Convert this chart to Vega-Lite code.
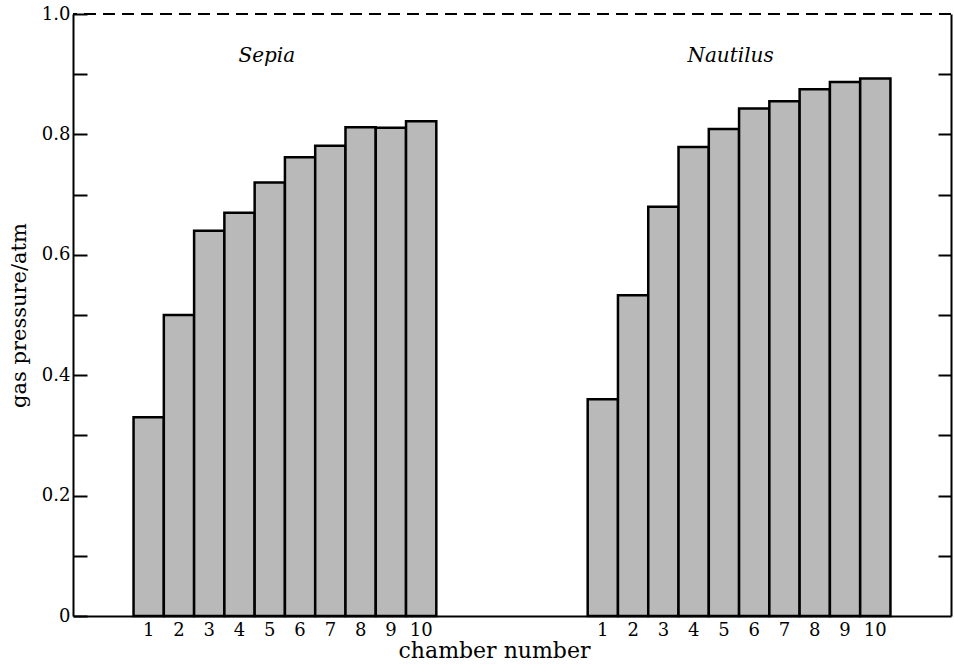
{
  "$schema": "https://vega.github.io/schema/vega-lite/v6.json",
  "width": 878,
  "height": 602,
  "autosize": "none",
  "padding": {"left": 73, "top": 14, "right": 3, "bottom": 55},
  "background": "white",
  "config": {
    "view": {"stroke": null},
    "font": "DejaVu Serif",
    "axis": {
      "grid": false,
      "domainColor": "black",
      "domainWidth": 2,
      "tickColor": "black",
      "tickWidth": 2,
      "labelColor": "black",
      "titleColor": "black",
      "labelFont": "DejaVu Serif",
      "titleFont": "DejaVu Serif",
      "labelFontSize": 18,
      "titleFontSize": 21,
      "titleFontWeight": "normal"
    }
  },
  "layer": [
    {
      "data": {
        "values": [
          {"species": "Sepia", "chamber": "1", "id": "S1", "pressure": 0.33},
          {"species": "Sepia", "chamber": "2", "id": "S2", "pressure": 0.50},
          {"species": "Sepia", "chamber": "3", "id": "S3", "pressure": 0.64},
          {"species": "Sepia", "chamber": "4", "id": "S4", "pressure": 0.67},
          {"species": "Sepia", "chamber": "5", "id": "S5", "pressure": 0.72},
          {"species": "Sepia", "chamber": "6", "id": "S6", "pressure": 0.762},
          {"species": "Sepia", "chamber": "7", "id": "S7", "pressure": 0.781},
          {"species": "Sepia", "chamber": "8", "id": "S8", "pressure": 0.812},
          {"species": "Sepia", "chamber": "9", "id": "S9", "pressure": 0.811},
          {"species": "Sepia", "chamber": "10", "id": "S10", "pressure": 0.822},
          {"species": "Nautilus", "chamber": "1", "id": "N1", "pressure": 0.36},
          {"species": "Nautilus", "chamber": "2", "id": "N2", "pressure": 0.533},
          {"species": "Nautilus", "chamber": "3", "id": "N3", "pressure": 0.68},
          {"species": "Nautilus", "chamber": "4", "id": "N4", "pressure": 0.779},
          {"species": "Nautilus", "chamber": "5", "id": "N5", "pressure": 0.809},
          {"species": "Nautilus", "chamber": "6", "id": "N6", "pressure": 0.843},
          {"species": "Nautilus", "chamber": "7", "id": "N7", "pressure": 0.855},
          {"species": "Nautilus", "chamber": "8", "id": "N8", "pressure": 0.875},
          {"species": "Nautilus", "chamber": "9", "id": "N9", "pressure": 0.887},
          {"species": "Nautilus", "chamber": "10", "id": "N10", "pressure": 0.893}
        ]
      },
      "mark": {"type": "bar", "fill": "#b9b9b9", "stroke": "black", "strokeWidth": 2.5},
      "encoding": {
        "x": {
          "field": "id",
          "type": "nominal",
          "sort": null,
          "scale": {
            "domain": ["a1", "a2", "S1", "S2", "S3", "S4", "S5", "S6", "S7", "S8", "S9", "S10", "g1", "g2", "g3", "g4", "g5", "N1", "N2", "N3", "N4", "N5", "N6", "N7", "N8", "N9", "N10", "r1", "r2"],
            "paddingInner": 0,
            "paddingOuter": 0
          },
          "axis": {
            "title": "chamber number",
            "titleFont": "DejaVu Serif",
            "titleFontSize": 22,
            "labelExpr": "(substring(datum.value,0,1) == 'S' || substring(datum.value,0,1) == 'N') ? substring(datum.value,1) : ''",
            "ticks": false,
            "labelAngle": 0,
            "labelPadding": 5,
            "titlePadding": 1,
            "titleX": 421
          }
        },
        "y": {
          "field": "pressure",
          "type": "quantitative",
          "scale": {"domain": [0, 1], "nice": false},
          "axis": {
            "title": "gas pressure/atm",
            "titleFont": "DejaVu Serif",
            "values": [0, 0.1, 0.2, 0.3, 0.4, 0.5, 0.6, 0.7, 0.8, 0.9, 1.0],
            "labelExpr": "datum.value == 0 ? '0' : (round(datum.value*10) % 2 == 0 ? format(datum.value, '.1f') : '')",
            "tickSize": -14,
            "labelPadding": 17,
            "titlePadding": 12
          }
        }
      }
    },
    {
      "data": {"values": [{}]},
      "mark": {"type": "rule", "strokeDash": [12, 7], "strokeWidth": 2, "color": "black"},
      "encoding": {
        "y": {
          "datum": 1,
          "type": "quantitative",
          "axis": {
            "orient": "right",
            "title": null,
            "labels": false,
            "values": [0.1, 0.2, 0.3, 0.4, 0.5, 0.6, 0.7, 0.8, 0.9],
            "tickSize": -13
          }
        }
      }
    },
    {
      "data": {"values": [{"id": "S5", "label": "Sepia"}]},
      "mark": {"type": "text", "fontStyle": "italic", "fontSize": 20, "font": "DejaVu Serif", "color": "black", "baseline": "alphabetic"},
      "encoding": {
        "x": {"field": "id", "type": "nominal", "bandPosition": 0.4},
        "y": {"datum": 0.92, "type": "quantitative", "axis": null},
        "text": {"field": "label"}
      }
    },
    {
      "data": {"values": [{"id": "N5", "label": "Nautilus"}]},
      "mark": {"type": "text", "fontStyle": "italic", "fontSize": 20, "font": "DejaVu Serif", "color": "black", "baseline": "alphabetic"},
      "encoding": {
        "x": {"field": "id", "type": "nominal", "bandPosition": 0.72},
        "y": {"datum": 0.92, "type": "quantitative", "axis": null},
        "text": {"field": "label"}
      }
    }
  ],
  "resolve": {"axis": {"y": "independent"}}
}
